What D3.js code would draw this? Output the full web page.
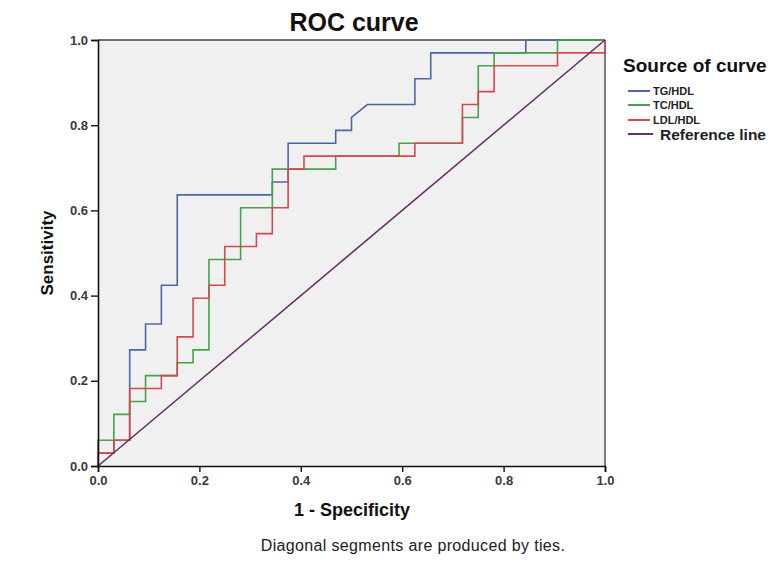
<!DOCTYPE html>
<html>
<head>
<meta charset="utf-8">
<script src="https://cdn.jsdelivr.net/npm/d3@7/dist/d3.min.js"></script>
<style>
  html, body { margin: 0; padding: 0; background: #ffffff; }
  svg { display: block; font-family: "Liberation Sans", Arial, sans-serif; }
</style>
</head>
<body>
<svg id="chart" width="777" height="583"></svg>
<script>
// ---- data (1 - specificity, sensitivity) ----
const tgFpr  = [0, 0, 0.0313, 0.0313, 0.0625, 0.0625, 0.0938, 0.0938, 0.125, 0.125, 0.1563, 0.1563, 0.3438, 0.3438, 0.375, 0.375, 0.4688, 0.4688, 0.5, 0.5, 0.5313, 0.625, 0.625, 0.6563, 0.6563, 0.8438, 0.8438, 1];
const tgSens = [0, 0.0303, 0.0303, 0.0606, 0.0606, 0.2727, 0.2727, 0.3333, 0.3333, 0.4242, 0.4242, 0.6364, 0.6364, 0.6667, 0.6667, 0.7576, 0.7576, 0.7879, 0.7879, 0.8182, 0.8485, 0.8485, 0.9091, 0.9091, 0.9697, 0.9697, 1, 1];

const tcFpr  = [0, 0, 0.0313, 0.0313, 0.0625, 0.0625, 0.0938, 0.0938, 0.1563, 0.1563, 0.1875, 0.1875, 0.2188, 0.2188, 0.2813, 0.2813, 0.3438, 0.3438, 0.4688, 0.4688, 0.5938, 0.5938, 0.7188, 0.7188, 0.75, 0.75, 0.7813, 0.7813, 0.9063, 0.9063, 1];
const tcSens = [0, 0.0606, 0.0606, 0.1212, 0.1212, 0.1515, 0.1515, 0.2121, 0.2121, 0.2424, 0.2424, 0.2727, 0.2727, 0.4848, 0.4848, 0.6061, 0.6061, 0.6970, 0.6970, 0.7273, 0.7273, 0.7576, 0.7576, 0.8182, 0.8182, 0.9394, 0.9394, 0.9697, 0.9697, 1, 1];

const ldlFpr  = [0, 0, 0.0313, 0.0313, 0.0625, 0.0625, 0.125, 0.125, 0.1563, 0.1563, 0.1875, 0.1875, 0.2188, 0.2188, 0.25, 0.25, 0.3125, 0.3125, 0.3438, 0.3438, 0.375, 0.375, 0.4063, 0.4063, 0.625, 0.625, 0.7188, 0.7188, 0.75, 0.75, 0.7813, 0.7813, 0.9063, 0.9063, 1, 1];
const ldlSens = [0, 0.0303, 0.0303, 0.0606, 0.0606, 0.1818, 0.1818, 0.2121, 0.2121, 0.3030, 0.3030, 0.3939, 0.3939, 0.4242, 0.4242, 0.5152, 0.5152, 0.5455, 0.5455, 0.6061, 0.6061, 0.6970, 0.6970, 0.7273, 0.7273, 0.7576, 0.7576, 0.8485, 0.8485, 0.8788, 0.8788, 0.9394, 0.9394, 0.9697, 0.9697, 1];

const refFpr  = [0, 1];
const refSens = [0, 1];

const seriesNames  = ["TG/HDL", "TC/HDL", "LDL/HDL", "Reference line"];
const seriesColors = ["#4f66a6", "#45a449", "#d7484e", "#6a2f6a"];
const tickValues   = [0, 0.2, 0.4, 0.6, 0.8, 1.0];

// ---- layout ----
const svg = d3.select("#chart");
const x = d3.scaleLinear().domain([0, 1]).range([98, 605]);
const y = d3.scaleLinear().domain([0, 1]).range([466, 40]);

// plot background
svg.append("rect")
  .attr("x", x(0)).attr("y", y(1))
  .attr("width", x(1) - x(0)).attr("height", y(0) - y(1))
  .attr("fill", "#f0f0f0");

// top & right frame
svg.append("line").attr("x1", x(0)).attr("x2", x(1)).attr("y1", y(1)).attr("y2", y(1))
  .attr("stroke", "#444").attr("stroke-width", 1.5);
svg.append("line").attr("x1", x(1)).attr("x2", x(1)).attr("y1", y(1)).attr("y2", y(0))
  .attr("stroke", "#555").attr("stroke-width", 1.5);

// curves
const series = [
  { fpr: tgFpr,  sens: tgSens },
  { fpr: tcFpr,  sens: tcSens },
  { fpr: ldlFpr, sens: ldlSens },
  { fpr: refFpr, sens: refSens }
];
const line = d3.line().x(d => x(d[0])).y(d => y(d[1]));
series.forEach((s, k) => {
  const pts = s.fpr.map((v, i) => [v, s.sens[i]]);
  svg.append("path")
    .datum(pts)
    .attr("d", line)
    .attr("fill", "none")
    .attr("stroke", seriesColors[k])
    .attr("stroke-width", 1.6);
});

// axes
const fmt = d3.format(".1f");
const xAxis = svg.append("g")
  .attr("transform", `translate(0,${y(0)})`)
  .call(d3.axisBottom(x).tickValues(tickValues).tickFormat(fmt).tickSize(6).tickPadding(4));
const yAxis = svg.append("g")
  .attr("transform", `translate(${x(0)},0)`)
  .call(d3.axisLeft(y).tickValues(tickValues).tickFormat(fmt).tickSize(7).tickPadding(3));
[xAxis, yAxis].forEach(g => {
  g.select(".domain").attr("stroke", "#111").attr("stroke-width", 1.6);
  g.selectAll(".tick line").attr("stroke", "#111").attr("stroke-width", 1.4);
  g.selectAll(".tick text")
    .attr("fill", "#3a3a3a")
    .style("font-family", "'Liberation Sans', Arial, sans-serif")
    .style("font-size", "13px")
    .style("font-weight", "bold");
});

// title
svg.append("text")
  .attr("x", 354).attr("y", 31)
  .attr("text-anchor", "middle")
  .style("font-size", "25px").style("font-weight", "bold")
  .attr("fill", "#111")
  .text("ROC curve");

// axis titles
svg.append("text")
  .attr("x", 352).attr("y", 516)
  .attr("text-anchor", "middle")
  .style("font-size", "18px").style("font-weight", "bold")
  .attr("fill", "#111")
  .text("1 - Specificity");
svg.append("text")
  .attr("transform", "translate(53,253) rotate(-90)")
  .attr("text-anchor", "middle")
  .style("font-size", "17px").style("font-weight", "bold")
  .attr("fill", "#111")
  .text("Sensitivity");

// footnote
svg.append("text")
  .attr("x", 413).attr("y", 551)
  .attr("text-anchor", "middle")
  .style("font-size", "16px")
  .style("letter-spacing", "0.35px")
  .attr("fill", "#222")
  .text("Diagonal segments are produced by ties.");

// legend
svg.append("text")
  .attr("x", 623).attr("y", 72)
  .style("font-size", "19px").style("font-weight", "bold")
  .attr("fill", "#111")
  .text("Source of curve");
const legY = [91, 105, 120, 134];
seriesNames.forEach((name, k) => {
  const isRef = k === 3;
  svg.append("line")
    .attr("x1", 628).attr("x2", isRef ? 653 : 650)
    .attr("y1", legY[k]).attr("y2", legY[k])
    .attr("stroke", seriesColors[k]).attr("stroke-width", 2);
  svg.append("text")
    .attr("x", isRef ? 660 : 653).attr("y", legY[k])
    .attr("dy", "0.36em")
    .style("font-size", isRef ? "15.5px" : "11px")
    .style("font-weight", "bold")
    .attr("fill", "#222")
    .text(name);
});
</script>
</body>
</html>
